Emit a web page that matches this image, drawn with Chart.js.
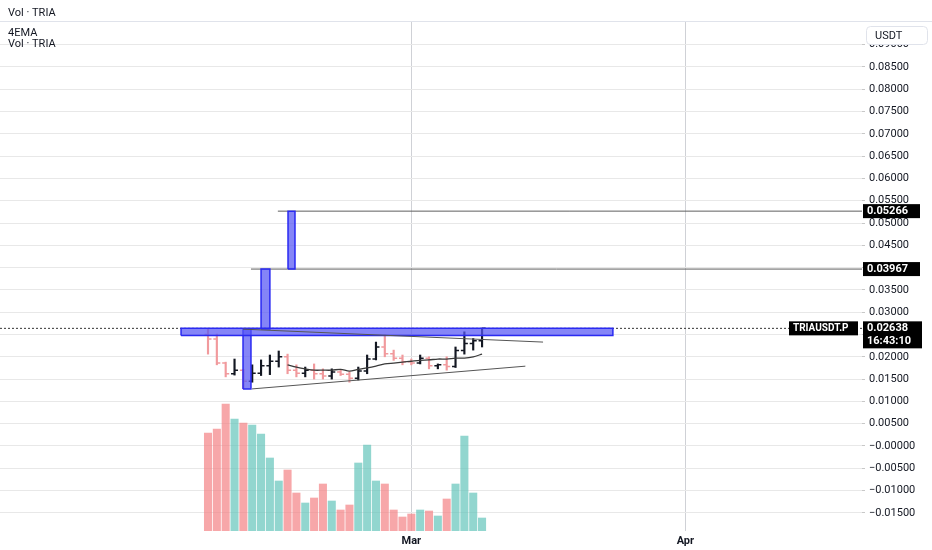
<!DOCTYPE html>
<html lang="en">
<head>
<meta charset="UTF-8">
<title>TRIAUSDT.P</title>
<script src="https://cdn.jsdelivr.net/npm/chart.js@4.4.1/dist/chart.umd.min.js"></script>
<style>
  body { margin: 0; padding: 0; background: #fff; }
  canvas { display: block; }
</style>
</head>
<body>
<canvas id="chart" width="932" height="550"></canvas>
<script>
// daily candles, Feb 6 -> Mar 9
const dates = ['02-06','02-07','02-08','02-09','02-10','02-11','02-12','02-13','02-14','02-15',
               '02-16','02-17','02-18','02-19','02-20','02-21','02-22','02-23','02-24','02-25',
               '02-26','02-27','02-28','03-01','03-02','03-03','03-04','03-05','03-06','03-07',
               '03-08','03-09'];
const open  = [0.0250,0.0240,0.0186,0.0162,0.0170,0.0145,0.0163,0.0180,0.0190,0.0200,
               0.0170,0.0163,0.0170,0.0162,0.0157,0.0166,0.0161,0.0152,0.0168,0.0195,
               0.0222,0.0207,0.0197,0.0189,0.0186,0.0197,0.0180,0.0182,0.0178,0.0214,
               0.0230,0.0236];
const high  = [0.0262,0.0251,0.0188,0.0195,0.0172,0.0182,0.0193,0.0204,0.0213,0.0206,
               0.0182,0.0177,0.0184,0.0173,0.0173,0.0172,0.0166,0.0177,0.0204,0.0233,
               0.0249,0.0215,0.0204,0.0195,0.0204,0.0200,0.0184,0.0200,0.0222,0.0256,
               0.0241,0.0264];
const low   = [0.0206,0.0182,0.0155,0.0159,0.0128,0.0143,0.0158,0.0160,0.0177,0.0162,
               0.0155,0.0155,0.0150,0.0150,0.0150,0.0158,0.0143,0.0148,0.0162,0.0193,
               0.0200,0.0192,0.0182,0.0182,0.0184,0.0173,0.0173,0.0170,0.0176,0.0206,
               0.0215,0.0222];
const close = [0.0240,0.0186,0.0162,0.0170,0.0145,0.0163,0.0180,0.0190,0.0200,0.0170,
               0.0163,0.0170,0.0162,0.0157,0.0166,0.0161,0.0152,0.0168,0.0195,0.0222,
               0.0207,0.0197,0.0189,0.0186,0.0197,0.0180,0.0182,0.0178,0.0214,0.0230,
               0.0236,0.02638];
// volume, millions TRIA
const volume = [9.8,10.2,12.7,11.2,10.8,10.6,9.7,7.3,5.0,6.1,
                3.8,2.8,3.3,4.7,3.0,2.1,2.6,6.8,8.6,5.0,
                4.7,2.1,1.4,1.7,2.1,2.0,1.5,3.2,4.7,9.5,
                3.8,1.3];
// 4EMA
const ema4 = [null,null,null,null,null,null,null,null,null,0.0182,
              0.0177,0.0173,0.0170,0.0170,0.0170,0.0172,0.0168,0.0172,0.0175,0.0179,
              0.0184,0.0186,0.0188,0.0190,0.0192,0.0193,0.0195,0.0195,0.0197,0.0197,
              0.0200,0.0206];

// drawings: [x0, x1, yLow, yHigh] in day index / price
const boxes = [
  [-3.05, 45.8, 0.0248, 0.0264],
  [3.96, 4.86, 0.0128, 0.0262],
  [6.0, 7.0, 0.0262, 0.0397],
  [9.05, 9.84, 0.0397, 0.05266]
];
const levels = [[7.9, 0.05266], [4.86, 0.03967]];
const trendUpper = [[3.96, 0.0262], [37.9, 0.0233]];
const trendLower = [[4.98, 0.0128], [35.9, 0.0179]];
const lastPrice = 0.02638;

const monthTicks = [23, 54];
const monthLabels = ['Mar', 'Apr'];
const priceTicks = [0.09,0.085,0.08,0.075,0.07,0.065,0.06,0.055,0.05,0.045,0.04,0.035,
                    0.03,0.025,0.02,0.015,0.01,0.005,0,-0.005,-0.01,-0.015];
const priceLabels = ['0.09000','0.08500','0.08000','0.07500','0.07000','0.06500','0.06000',
                     '0.05500','0.05000','0.04500','0.04000','0.03500','0.03000','0.02500',
                     '0.02000','0.01500','0.01000','0.00500','\u22120.00000','\u22120.00500',
                     '\u22120.01000','\u22120.01500'];

const upColor = '#131722';
const downColor = '#f19a9d';
const FONT = 'Roboto, "Noto Sans", sans-serif';
const X_MIN = -23.53, X_MAX = 73.98;
const Y_MIN = -0.01906, Y_MAX = 0.09507;

const isUp = close.map((c, i) => c >= open[i]);
const xs = dates.map((d, i) => i);

const lineDs = (pts, color, width, order, extra) => Object.assign({
  type: 'line', data: pts.map(p => ({x: p[0], y: p[1]})), borderColor: color,
  borderWidth: width, pointRadius: 0, tension: 0, fill: false, order: order, yAxisID: 'y'
}, extra || {});

const datasets = [];
datasets.push(lineDs(trendUpper, '#555', 1, 0));
datasets.push(lineDs(trendLower, '#555', 1, 0));
boxes.forEach(b => {
  datasets.push(lineDs([[b[0], b[2]], [b[1], b[2]], [b[1], b[3]], [b[0], b[3]], [b[0], b[2]]],
    '#2a2af2', 1.5, 1, {fill: 'shape', backgroundColor: 'rgba(86,86,244,0.72)'}));
});
levels.forEach(l => {
  datasets.push(lineDs([[l[0], l[1]], [X_MAX, l[1]]], '#5f5f5f', 1, 1));
});
datasets.push(lineDs([[X_MIN, lastPrice], [X_MAX, lastPrice]], '#333', 1, 1, {borderDash: [2, 2]}));
datasets.push({
  type: 'line', label: '4EMA', data: xs.map(i => ({x: i, y: ema4[i]})),
  borderColor: '#3a3a3a', borderWidth: 1.3, pointRadius: 0, tension: 0.3, order: 2, yAxisID: 'y'
});
datasets.push({
  type: 'bar', label: 'candles', data: xs.map(i => ({x: i, y: [low[i], high[i]]})),
  backgroundColor: isUp.map(u => u ? upColor : downColor), barThickness: 1.5,
  grouped: false, order: 3, yAxisID: 'y'
});
datasets.push({
  type: 'bar', label: 'Vol', data: xs.map(i => ({x: i, y: volume[i]})),
  backgroundColor: isUp.map(u => u ? 'rgba(100,196,186,0.7)' : 'rgba(244,130,132,0.7)'),
  barThickness: 7.4, grouped: false, order: 5, yAxisID: 'vol'
});

// open / close ticks, drawn right after the wicks
const ohlcTicks = {
  id: 'ohlcTicks',
  afterDatasetDraw(chart, args) {
    if (chart.data.datasets[args.index].label !== 'candles') return;
    const c = chart.ctx, sx = chart.scales.x, sy = chart.scales.y;
    c.save();
    c.lineWidth = 1.5;
    xs.forEach(i => {
      const px = sx.getPixelForValue(i);
      const po = sy.getPixelForValue(open[i]), pc = sy.getPixelForValue(close[i]);
      c.strokeStyle = isUp[i] ? upColor : downColor;
      c.beginPath();
      c.moveTo(px - 3.5, po); c.lineTo(px, po);
      c.moveTo(px, pc); c.lineTo(px + 3.5, pc);
      c.stroke();
    });
    c.restore();
  }
};

function tag(c, x, y, w, lines) {
  const h = 13 * lines.length + 1;
  c.fillStyle = '#000';
  c.fillRect(x, y - 7, w, h);
  c.fillStyle = '#fff';
  c.textBaseline = 'middle';
  lines.forEach((t, k) => c.fillText(t, x + 4, y + k * 13));
}

const overlay = {
  id: 'overlay',
  afterDraw(chart) {
    const c = chart.ctx, sy = chart.scales.y, a = chart.chartArea;
    c.save();
    // header
    c.strokeStyle = '#e0e3eb';
    c.lineWidth = 1;
    c.beginPath(); c.moveTo(0, 21.5); c.lineTo(932, 21.5); c.stroke();
    c.fillStyle = '#131722';
    c.font = '11px ' + FONT;
    c.textBaseline = 'middle';
    c.fillText('Vol \u00b7 TRIA', 8, 13);
    c.fillText('4EMA', 8, 33);
    c.fillText('Vol \u00b7 TRIA', 8, 44);
    // currency box
    c.fillStyle = '#fff';
    c.strokeStyle = '#e0e3eb';
    c.beginPath(); c.roundRect(866.5, 26.5, 61, 18, 4); c.fill(); c.stroke();
    c.fillStyle = '#131722';
    c.fillText('USDT', 875, 36);
    // price tags
    c.font = 'bold 11px ' + FONT;
    levels.forEach(l => tag(c, a.right + 1, sy.getPixelForValue(l[1]), 57, [l[1].toFixed(5)]));
    const py = sy.getPixelForValue(lastPrice);
    tag(c, a.right + 1, py, 59, [lastPrice.toFixed(5), '16:43:10']);
    c.font = 'bold 10px ' + FONT;
    tag(c, 789, py, 69, ['TRIAUSDT.P']);
    c.restore();
  }
};

const ctx = document.getElementById('chart').getContext('2d');
new Chart(ctx, {
  type: 'bar',
  data: { datasets: datasets },
  options: {
    responsive: false,
    animation: false,
    layout: { padding: { top: 22, left: 0, right: 0, bottom: 0 } },
    plugins: { legend: { display: false }, tooltip: { enabled: false } },
    scales: {
      x: {
        type: 'linear', min: X_MIN, max: X_MAX, offset: false,
        afterBuildTicks: s => { s.ticks = monthTicks.map(v => ({value: v})); },
        afterFit: s => { s.height = 19; },
        ticks: {
          autoSkip: false, maxRotation: 0, padding: 4, color: '#131722',
          font: { family: FONT, size: 11, weight: 'bold' },
          callback: v => monthLabels[monthTicks.indexOf(v)]
        },
        grid: { color: '#cfd1d6', drawTicks: false, offset: false },
        border: { display: false }
      },
      y: {
        position: 'right', min: Y_MIN, max: Y_MAX,
        afterBuildTicks: s => { s.ticks = priceTicks.map(v => ({value: v})); },
        afterFit: s => { s.width = 70; },
        ticks: {
          autoSkip: false, padding: 4, color: '#131722',
          font: { family: FONT, size: 11 },
          callback: v => priceLabels[priceTicks.indexOf(v)]
        },
        grid: { color: '#e8e8e8', tickLength: 3, tickColor: '#c8c8c8' },
        border: { display: false }
      },
      vol: { display: false, min: 0, max: 50.9 }
    }
  },
  plugins: [ohlcTicks, overlay]
});
</script>
</body>
</html>
